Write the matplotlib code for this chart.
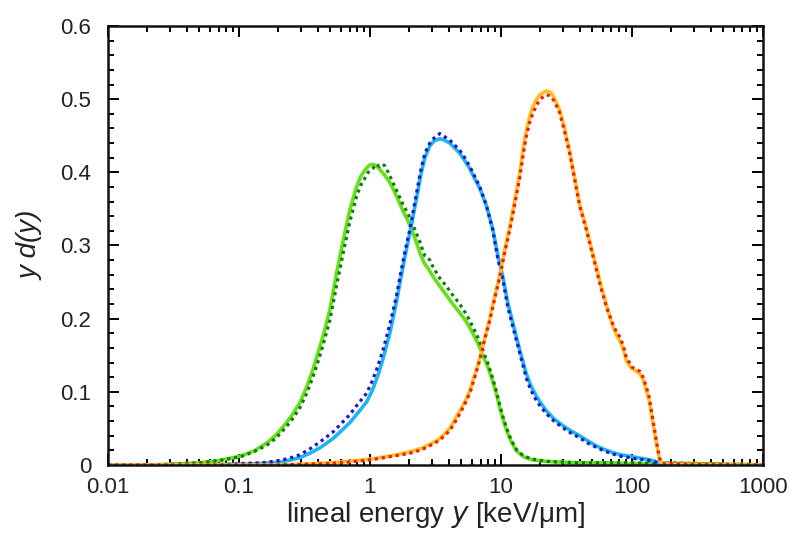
import matplotlib
matplotlib.use("Agg")
import matplotlib.pyplot as plt
from matplotlib.ticker import LogLocator, MultipleLocator, FixedLocator, NullFormatter

plt.rcParams['font.family'] = ['Liberation Sans', 'DejaVu Sans']

# ---- data (lineal energy y [keV/um], y d(y)) ----
green_solid_x = [0.01, 0.02, 0.03, 0.05, 0.07, 0.102, 0.13, 0.163, 0.19, 0.217, 0.25, 0.292,
                 0.33, 0.367, 0.40, 0.438, 0.495, 0.557, 0.626, 0.704, 0.75, 0.791, 0.85,
                 0.916, 0.97, 1.0, 1.05, 1.12, 1.19, 1.30, 1.40, 1.50, 1.65, 1.79, 1.95, 2.08,
                 2.25, 2.41, 2.6, 2.8, 3.03, 3.4, 3.85, 4.3, 4.86, 5.5, 6.11, 6.7, 7.29, 8.0,
                 8.69, 9.3, 9.82, 10.5, 11.1, 12.0, 13.2, 15.0, 17.6, 22.0, 28.2, 40, 60, 100,
                 150, 200, 300, 500, 700, 1000]
green_solid_y = [0, 0, 0.001, 0.003, 0.006, 0.012, 0.019, 0.030, 0.040, 0.052, 0.066, 0.085,
                 0.107, 0.130, 0.152, 0.175, 0.212, 0.262, 0.307, 0.349, 0.366, 0.380, 0.394,
                 0.403, 0.408, 0.410, 0.411, 0.409, 0.404, 0.396, 0.388, 0.378, 0.362, 0.347,
                 0.334, 0.322, 0.306, 0.290, 0.276, 0.268, 0.258, 0.245, 0.232, 0.220, 0.208,
                 0.195, 0.180, 0.166, 0.150, 0.133, 0.114, 0.096, 0.078, 0.060, 0.047, 0.032,
                 0.019, 0.011, 0.007, 0.005, 0.004, 0.003, 0.003, 0.002, 0.002, 0.002, 0.002,
                 0.001, 0.001, 0]

green_dot_x = [0.01, 0.02, 0.03, 0.05, 0.07, 0.102, 0.13, 0.163, 0.19, 0.217, 0.25, 0.292,
               0.33, 0.367, 0.40, 0.438, 0.495, 0.557, 0.626, 0.704, 0.75, 0.791, 0.85, 0.916,
               0.97, 1.05, 1.12, 1.19, 1.25, 1.30, 1.40, 1.50, 1.65, 1.79, 1.95, 2.08, 2.25,
               2.41, 2.55, 2.63, 2.75, 2.87, 3.03, 3.4, 3.85, 4.3, 4.86, 5.5, 6.11, 6.7, 7.29,
               8.0, 8.69, 9.3, 9.82, 10.5, 11.1, 12.0, 13.2, 15.0, 17.6, 22.0, 28.2, 40, 60,
               100, 150, 200, 300, 500]
green_dot_y = [0, 0, 0.001, 0.003, 0.006, 0.011, 0.018, 0.027, 0.036, 0.047, 0.060, 0.078,
               0.098, 0.120, 0.140, 0.163, 0.198, 0.245, 0.290, 0.333, 0.351, 0.367, 0.382,
               0.392, 0.400, 0.405, 0.411, 0.408, 0.411, 0.409, 0.398, 0.386, 0.370, 0.356,
               0.344, 0.333, 0.318, 0.305, 0.292, 0.286, 0.284, 0.280, 0.271, 0.256, 0.244,
               0.232, 0.220, 0.205, 0.189, 0.174, 0.157, 0.138, 0.118, 0.099, 0.082, 0.063,
               0.050, 0.034, 0.021, 0.012, 0.008, 0.005, 0.004, 0.003, 0.003, 0.003, 0.002,
               0.003, 0.002, 0.001]

blue_x = [0.01, 0.05, 0.09, 0.102, 0.15, 0.206, 0.25, 0.292, 0.348, 0.42, 0.522, 0.60, 0.704,
          0.80, 0.944, 1.05, 1.15, 1.26, 1.42, 1.50, 1.60, 1.69, 1.85, 2.02, 2.27, 2.45,
          2.63, 2.87, 3.1, 3.42, 3.7, 4.08, 4.4, 4.86, 5.3, 5.80, 6.3, 6.92, 7.78, 8.69,
          9.53, 10.4, 11.3, 12.4, 14.0, 15.7, 17.0, 18.7, 20.5, 22.3, 25.5, 29.7, 34.0,
          40.1, 46.0, 53.8, 62.0, 71.6, 82.0, 96.6, 110, 129, 145, 164, 200, 330, 1000]
blue_solid_y = [0, 0, 0.001, 0.001, 0.002, 0.004, 0.007, 0.010, 0.016, 0.024, 0.036, 0.046,
                0.058, 0.070, 0.086, 0.103, 0.122, 0.145, 0.180, 0.200, 0.224, 0.247, 0.284,
                0.317, 0.364, 0.396, 0.420, 0.436, 0.443, 0.446, 0.444, 0.440, 0.434, 0.426,
                0.416, 0.405, 0.392, 0.378, 0.354, 0.322, 0.285, 0.256, 0.222, 0.193, 0.156,
                0.124, 0.108, 0.094, 0.083, 0.074, 0.063, 0.054, 0.047, 0.040, 0.033, 0.026,
                0.021, 0.017, 0.014, 0.012, 0.010, 0.008, 0.006, 0.003, 0.001, 0, 0]
blue_dot_y = [0, 0, 0.001, 0.002, 0.003, 0.006, 0.010, 0.014, 0.022, 0.032, 0.045, 0.056,
              0.069, 0.082, 0.098, 0.116, 0.135, 0.157, 0.192, 0.210, 0.232, 0.255, 0.291,
              0.322, 0.371, 0.403, 0.426, 0.440, 0.447, 0.453, 0.449, 0.444, 0.438, 0.430,
              0.420, 0.408, 0.395, 0.380, 0.354, 0.321, 0.280, 0.252, 0.216, 0.188, 0.152,
              0.118, 0.102, 0.088, 0.078, 0.070, 0.060, 0.051, 0.044, 0.037, 0.030, 0.024,
              0.019, 0.015, 0.012, 0.010, 0.008, 0.007, 0.005, 0.002, 0.001, 0, 0]

red_x = [0.01, 0.1, 0.2, 0.3, 0.5, 0.7, 1.0, 1.19, 1.5, 2.02, 2.5, 3.0, 3.42, 4.08, 4.59, 5.2,
         5.80, 6.3, 6.92, 7.5, 8.24, 9.0, 9.82, 10.7, 11.7, 12.8, 14.0, 14.7, 15.6, 16.6,
         17.6, 18.8, 19.9, 21.0, 22.3, 23.3, 24.4, 26.0, 28.2, 30.5, 33.6, 36.5, 40.1, 45.1,
         49.0, 53.8, 58.0, 64.1, 71.6, 76.4, 82.0, 87.0, 91.1, 96.0, 100, 109, 116, 122, 129,
         136, 145, 152, 158, 163, 167, 175, 200, 300, 500, 1000]
red_dot_y = [0, 0, 0, 0.001, 0.002, 0.004, 0.007, 0.009, 0.012, 0.016, 0.021, 0.028, 0.034,
             0.047, 0.062, 0.080, 0.098, 0.119, 0.144, 0.170, 0.198, 0.228, 0.257, 0.290,
             0.321, 0.357, 0.394, 0.420, 0.448, 0.468, 0.481, 0.492, 0.499, 0.503, 0.506,
             0.505, 0.503, 0.495, 0.481, 0.458, 0.426, 0.392, 0.353, 0.321, 0.295, 0.266,
             0.243, 0.216, 0.193, 0.182, 0.174, 0.160, 0.146, 0.140, 0.134, 0.130, 0.128,
             0.120, 0.107, 0.092, 0.062, 0.040, 0.022, 0.010, 0.004, 0.002, 0.002, 0.001,
             0.001, 0]
orange_y = [0, 0, 0, 0.001, 0.003, 0.005, 0.008, 0.010, 0.013, 0.018, 0.023, 0.030, 0.036,
            0.050, 0.066, 0.083, 0.101, 0.122, 0.146, 0.172, 0.200, 0.231, 0.259, 0.293,
            0.325, 0.362, 0.400, 0.428, 0.455, 0.476, 0.490, 0.500, 0.506, 0.509, 0.511,
            0.510, 0.508, 0.499, 0.485, 0.462, 0.428, 0.394, 0.356, 0.323, 0.297, 0.270,
            0.246, 0.218, 0.190, 0.178, 0.168, 0.156, 0.142, 0.136, 0.132, 0.128, 0.124,
            0.117, 0.103, 0.088, 0.058, 0.036, 0.020, 0.008, 0.003, 0.002, 0.001, 0.001,
            0, 0]

x_ticks = [0.01, 0.1, 1, 10, 100, 1000]
x_tick_labels = ["0.01", "0.1", "1", "10", "100", "1000"]
y_ticks = [0, 0.1, 0.2, 0.3, 0.4, 0.5, 0.6]
y_tick_labels = ["0", "0.1", "0.2", "0.3", "0.4", "0.5", "0.6"]

fig = plt.figure(figsize=(7.91, 5.36), dpi=100)
ax = fig.add_axes([0.1365, 0.1325, 0.9642 - 0.1365, 0.9515 - 0.1325])

dot = (0, (1, 1.2))
ax.plot(green_solid_x, green_solid_y, color='#66e01a', lw=2.6)
ax.plot(green_dot_x, green_dot_y, color='#137a13', lw=2.3, ls=dot)
ax.plot(blue_x, blue_solid_y, color='#22b4ee', lw=2.6)
ax.plot(blue_x, blue_dot_y, color='#1a1acc', lw=2.3, ls=dot)
ax.plot(red_x, orange_y, color='#ffbf22', lw=2.6)
ax.plot(red_x, red_dot_y, color='#ee1c1c', lw=2.3, ls=dot)

ax.set_xscale('log')
ax.set_xlim(0.01, 1000)
ax.set_ylim(0, 0.6)
ax.xaxis.set_major_locator(FixedLocator(x_ticks))
ax.set_xticklabels(x_tick_labels)
ax.xaxis.set_minor_locator(LogLocator(base=10, subs=range(2, 10), numticks=20))
ax.xaxis.set_minor_formatter(NullFormatter())
ax.set_yticks(y_ticks)
ax.set_yticklabels(y_tick_labels)
ax.yaxis.set_minor_locator(MultipleLocator(0.02))

ax.tick_params(which='both', direction='in', top=True, right=True, width=1.4, color='black')
ax.tick_params(which='major', length=8, labelsize=16, labelcolor='#222222')
ax.tick_params(axis='x', which='major', pad=9)
ax.tick_params(axis='y', which='major', pad=12)
ax.tick_params(which='minor', length=4.5)
for s in ax.spines.values():
    s.set_linewidth(1.8)
    s.set_color('#111111')

ax.set_xlabel(r"lineal energy $\it{y}$ [keV/μm]", fontsize=20, color='#222222', labelpad=1)
ax.set_ylabel("y d(y)", fontsize=20, style='italic', color='#222222', labelpad=12)

fig.savefig("out.png", dpi=100)
